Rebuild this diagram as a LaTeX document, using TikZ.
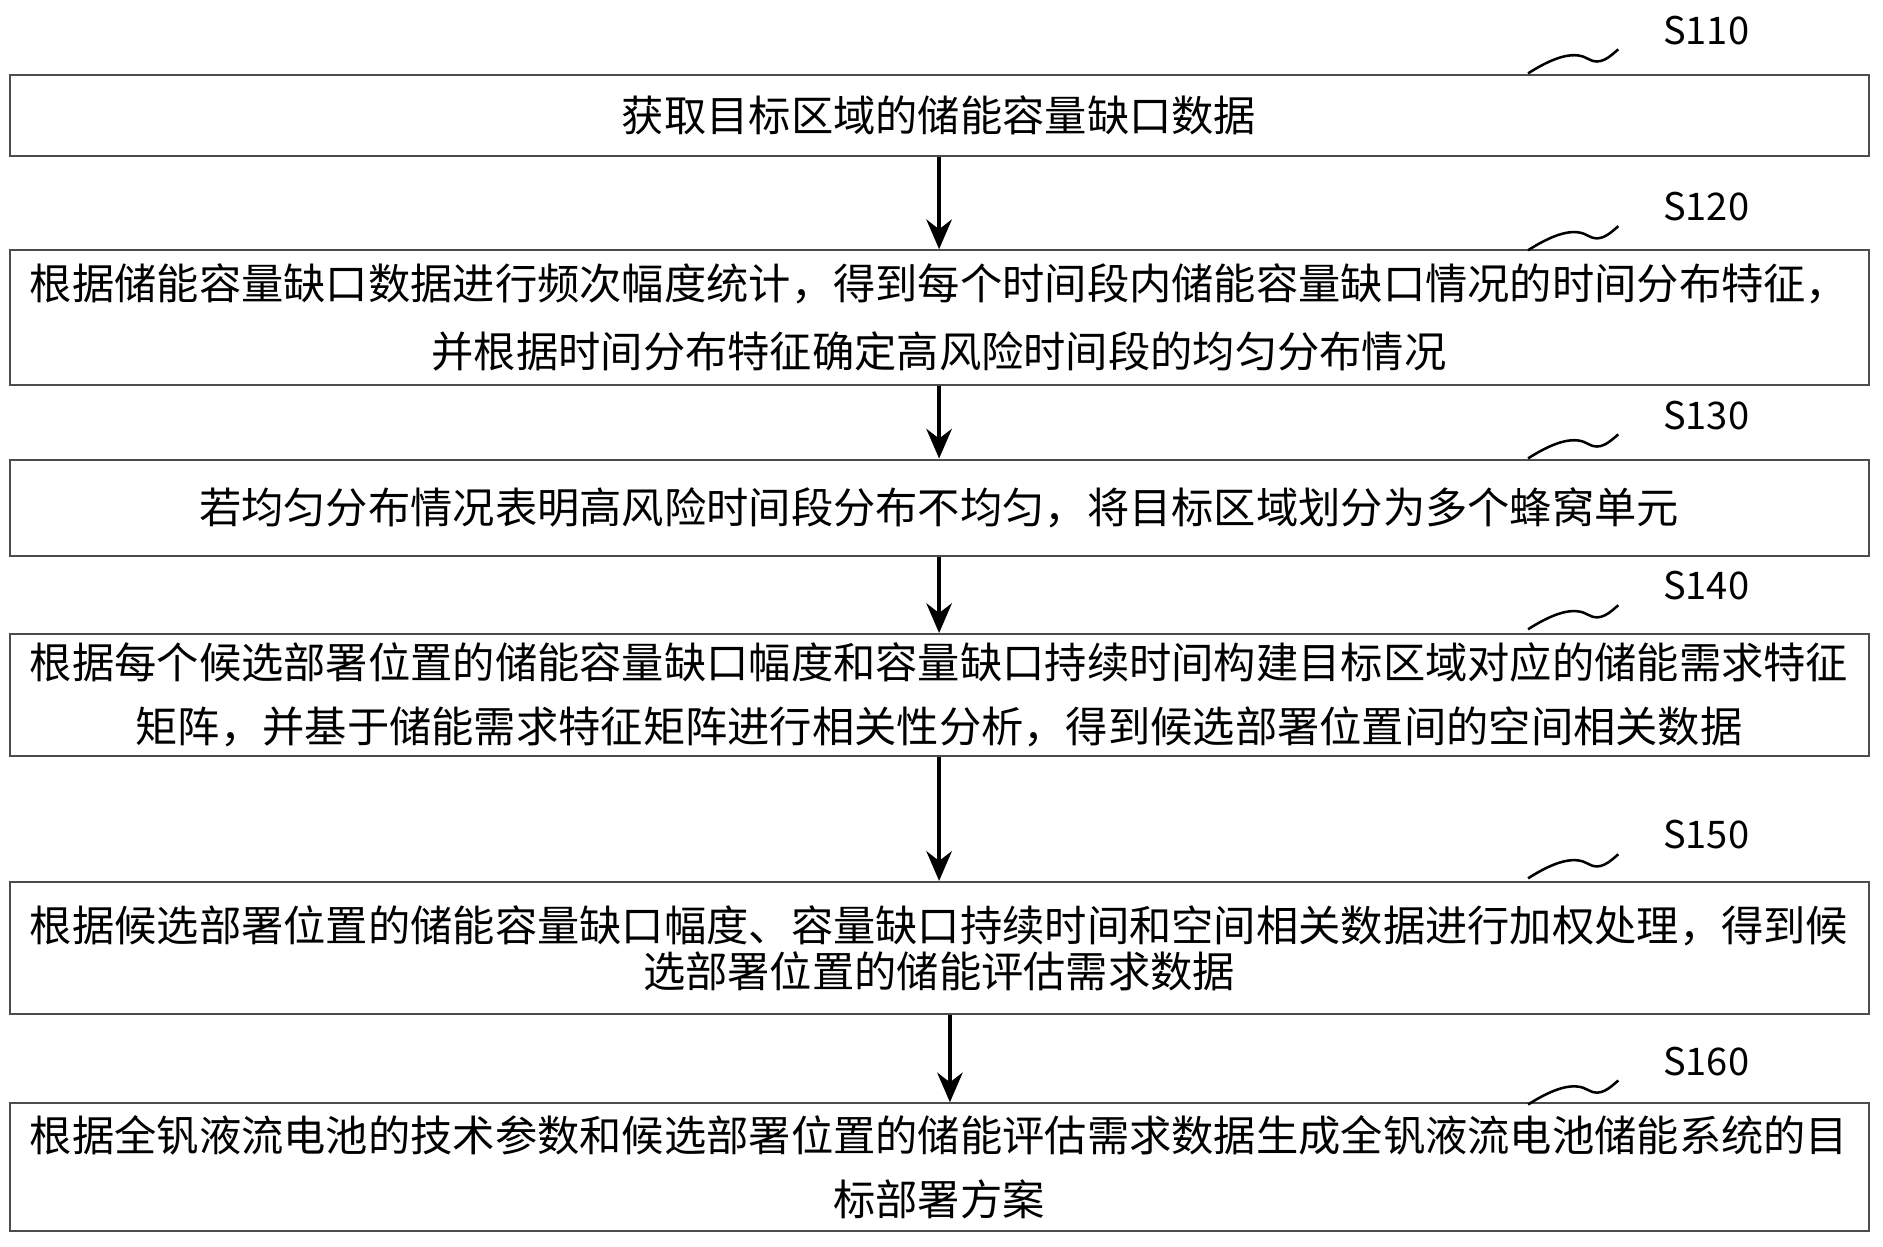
\documentclass[tikz,border=0pt]{standalone}
\usepackage{fontspec}
\setmainfont{Noto Sans CJK SC}
\usetikzlibrary{arrows.meta, positioning}

\begin{document}
\begin{tikzpicture}[>=Stealth, x=1cm, y=1cm]
	\tikzstyle{stepbox} = [draw=black!70, line width=0.5pt, rectangle, minimum width=15.45cm, inner sep=0pt, font=\fontsize{10pt}{15pt}\selectfont, align=center]
	\tikzstyle{arrow} = [line width=1pt, ->, >={Stealth[length=7pt,width=6pt]}]
	\tikzstyle{tag} = [font=\fontsize{9pt}{10pt}\selectfont]
	\useasboundingbox (0,0) rectangle (15.65,10.36);

	\node[stepbox, minimum height=0.68cm] at (7.805, 9.40) (s1) {获取目标区域的储能容量缺口数据};
	\node[stepbox, minimum height=1.12cm] at (7.805, 7.72) (s2) {根据储能容量缺口数据进行频次幅度统计，得到每个时间段内储能容量缺口情况的时间分布特征，\\[1pt]并根据时间分布特征确定高风险时间段的均匀分布情况};
	\node[stepbox, minimum height=0.80cm] at (7.805, 6.14) (s3) {若均匀分布情况表明高风险时间段分布不均匀，将目标区域划分为多个蜂窝单元};
	\node[stepbox, minimum height=1.01cm] at (7.805, 4.585) (s4) {根据每个候选部署位置的储能容量缺口幅度和容量缺口持续时间构建目标区域对应的储能需求特征\\矩阵，并基于储能需求特征矩阵进行相关性分析，得到候选部署位置间的空间相关数据};
	\node[stepbox, minimum height=1.10cm, font=\fontsize{10pt}{11pt}\selectfont] at (7.805, 2.48) (s5) {根据候选部署位置的储能容量缺口幅度、容量缺口持续时间和空间相关数据进行加权处理，得到候\\选部署位置的储能评估需求数据};
	\node[stepbox, minimum height=1.06cm] at (7.805, 0.66) (s6) {根据全钒液流电池的技术参数和候选部署位置的储能评估需求数据生成全钒液流电池储能系统的目\\标部署方案};

	% step labels with wavy leaders
	\foreach \n/\y/\t in {1/10.11/S110, 2/8.64/S120, 3/6.91/S130, 4/5.49/S140, 5/3.42/S150, 6/1.54/S160}{
		\node[tag] at (14.18, \y) (t\n) {\t};
		\draw[line width=0.6pt] (12.70, \y-0.36) .. controls (12.95, \y-0.20) and (13.10, \y-0.18) .. (13.20, \y-0.24) .. controls (13.30, \y-0.30) and (13.38, \y-0.22) .. (13.45, \y-0.16);
	}

	\draw [arrow] (s1) -- (s2);
	\draw [arrow] (s2) -- (s3);
	\draw [arrow] (s3) -- (s4);
	\draw [arrow] (s4) -- (s5);
	\draw [arrow] ([xshift=0.09cm]s5.south) -- ([xshift=0.09cm]s6.north);
\end{tikzpicture}
\end{document}
